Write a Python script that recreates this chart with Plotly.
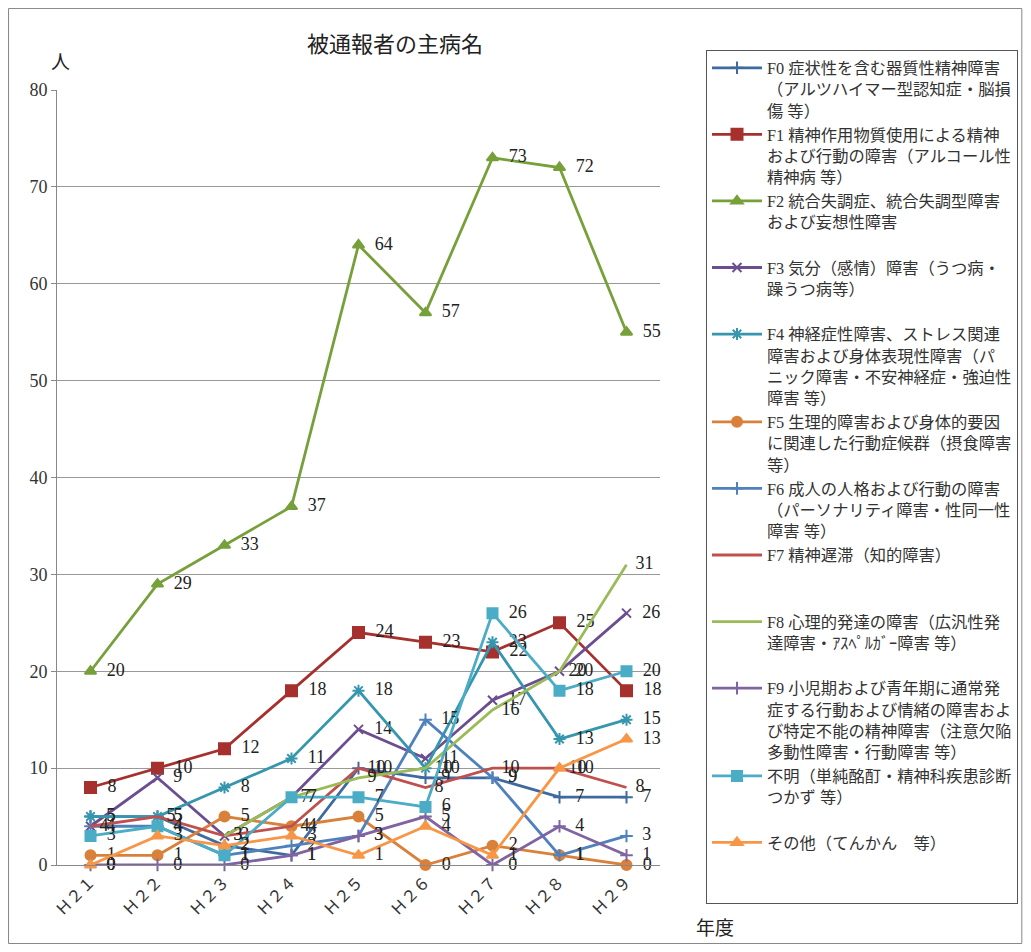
import plotly.graph_objects as go

years = ["Ｈ２１", "Ｈ２２", "Ｈ２３", "Ｈ２４", "Ｈ２５", "Ｈ２６", "Ｈ２７", "Ｈ２８", "Ｈ２９"]

names = [
    "F0 症状性を含む器質性精神障害<br>（アルツハイマー型認知症・脳損<br>傷 等）",
    "F1 精神作用物質使用による精神<br>および行動の障害（アルコール性<br>精神病 等）",
    "F2 統合失調症、統合失調型障害<br>および妄想性障害<br> ",
    "F3 気分（感情）障害（うつ病・<br>躁うつ病等）<br> ",
    "F4 神経症性障害、ストレス関連<br>障害および身体表現性障害（パ<br>ニック障害・不安神経症・強迫性<br>障害 等）",
    "F5 生理的障害および身体的要因<br>に関連した行動症候群（摂食障害<br>等）",
    "F6 成人の人格および行動の障害<br>（パーソナリティ障害・性同一性<br>障害 等）",
    "F7 精神遅滞（知的障害）<br> <br> ",
    "F8 心理的発達の障害（広汎性発<br>達障害・ｱｽﾍﾟﾙｶﾞｰ障害 等）<br> ",
    "F9 小児期および青年期に通常発<br>症する行動および情緒の障害およ<br>び特定不能の精神障害（注意欠陥<br>多動性障害・行動障害 等）",
    "不明（単純酩酊・精神科疾患診断<br>つかず 等）<br> ",
    "その他（てんかん　等）<br> <br> ",
]

f0 = [5, 5, 2, 1, 10, 9, 9, 7, 7]
f1 = [8, 10, 12, 18, 24, 23, 22, 25, 18]
f2 = [20, 29, 33, 37, 64, 57, 73, 72, 55]
f3 = [4, 9, 3, 7, 14, 11, 17, 20, 26]
f4 = [5, 5, 8, 11, 18, 10, 23, 13, 15]
f5 = [1, 1, 5, 4, 5, 0, 2, 1, 0]
f6 = [4, 4, 1, 2, 3, 15, 9, 1, 3]
f7 = [4, 5, 3, 4, 10, 8, 10, 10, 8]
f8 = [None, None, 3, 7, 9, 10, 16, 20, 31]
f9 = [0, 0, 0, 1, 3, 5, 0, 4, 1]
unknown = [3, 4, 1, 7, 7, 6, 26, 18, 20]
other = [0, 3, 2, 3, 1, 4, 1, 10, 13]

series = [f0, f1, f2, f3, f4, f5, f6, f7, f8, f9, unknown, other]

colors = ["#3F6A9F", "#A5302D", "#77A03A", "#6B4E8F", "#3596AE", "#D9813B",
          "#4F81BD", "#C0504D", "#9BBB59", "#8064A2", "#4BACC6", "#F79646"]
symbols = ["cross-thin-open", "square", "triangle-up", "x-thin-open", "asterisk-open", "circle",
           "cross-thin-open", None, None, "cross-thin-open", "square", "triangle-up"]
sizes = [9, 11, 10, 9, 10, 10, 9, 0, 0, 9, 10, 10]

fig = go.Figure()
for i, (nm, vals) in enumerate(zip(names, series)):
    has_marker = symbols[i] is not None
    marker = dict(color=colors[i], size=sizes[i])
    if has_marker:
        marker["symbol"] = symbols[i]
        marker["line"] = dict(color=colors[i], width=2)
    fig.add_trace(go.Scatter(
        x=years, y=vals, name=nm,
        mode="lines+markers+text" if has_marker else "lines+text",
        line=dict(color=colors[i], width=2.8),
        marker=marker,
        text=[None if v is None else "\u00a0\u00a0" + str(v) for v in vals],
        textposition="middle right",
        textfont=dict(family="Liberation Serif", size=18, color="#222"),
        legendgroup="g%d" % i,
        connectgaps=False,
        cliponaxis=False,
    ))

fig.update_layout(
    width=1015, height=936,
    paper_bgcolor="white", plot_bgcolor="white",
    margin=dict(l=49, r=363, t=82, b=79, autoexpand=False),
    showlegend=True,
    legend=dict(
        x=1.5937, xanchor="right", y=1.052, yanchor="top",
        bordercolor="#555", borderwidth=1,
        font=dict(family="Liberation Serif, Noto Sans CJK JP", size=16.3, color="#333"),
        itemwidth=50, valign="top", tracegroupgap=3,
        traceorder="normal", maxheight=900,
    ),
    xaxis=dict(
        type="category", range=[-0.5, 8.5],
        showgrid=False, showline=True, linecolor="#888", linewidth=1,
        tickangle=-45, ticks="",
        tickfont=dict(family="Noto Sans CJK JP", size=16, color="#333"),
        zeroline=False,
    ),
    yaxis=dict(
        range=[0, 80], dtick=10,
        showgrid=True, gridcolor="#999", gridwidth=1,
        showline=True, linecolor="#888", linewidth=1,
        ticks="outside", ticklen=5, tickcolor="#888",
        tickfont=dict(family="Liberation Serif", size=18, color="#333"),
        zeroline=False,
    ),
    annotations=[
        dict(text="被通報者の主病名", xref="paper", yref="paper", x=0.5605, y=1.062,
             showarrow=False, font=dict(family="Noto Sans CJK JP", size=22, color="#222"),
             xanchor="center", yanchor="middle"),
        dict(text="人", xref="paper", yref="paper", x=-0.014, y=1.038,
             showarrow=False, font=dict(family="Noto Sans CJK JP", size=19, color="#222"),
             xanchor="left", yanchor="middle"),
        dict(text="年度", xref="paper", yref="paper", x=1.091, y=-0.079,
             showarrow=False, font=dict(family="Noto Sans CJK JP", size=19, color="#222"),
             xanchor="center", yanchor="middle"),
    ],
    shapes=[
        dict(type="rect", xref="paper", yref="paper",
             x0=-0.0804, x1=1.600, y0=-0.1013, y1=1.1052,
             line=dict(color="#888", width=1), fillcolor="rgba(0,0,0,0)", layer="below"),
    ],
)

fig.write_html("out.html")
